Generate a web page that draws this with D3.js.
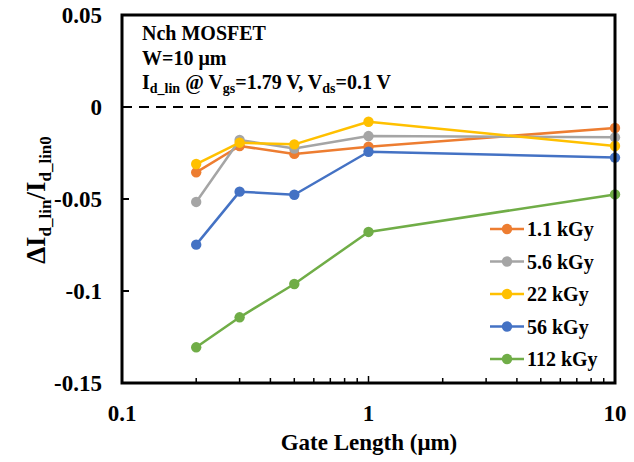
<!DOCTYPE html>
<html>
<head>
<meta charset="utf-8">
<script src="https://cdn.jsdelivr.net/npm/d3@7"></script>
<style>
  html, body { margin: 0; padding: 0; background: #fff; }
  svg { display: block; }
</style>
</head>
<body>
<svg id="chart" width="634" height="462"></svg>
<script>
// Gate lengths (µm) and relative linear drain current shift per dose
const gateLengths = [0.2, 0.3, 0.5, 1, 10];
const doseLabels = ["1.1 kGy", "5.6 kGy", "22 kGy", "56 kGy", "112 kGy"];
const seriesColors = ["#ED7D31", "#A5A5A5", "#FFC000", "#4472C4", "#70AD47"];
const dose1p1 = [-0.0355, -0.0212, -0.0255, -0.0216, -0.0114];
const dose5p6 = [-0.0516, -0.0179, -0.0226, -0.0158, -0.0165];
const dose22 = [-0.0310, -0.0194, -0.0203, -0.0080, -0.0212];
const dose56 = [-0.0748, -0.0460, -0.0477, -0.0243, -0.0275];
const dose112 = [-0.1306, -0.1143, -0.0962, -0.0679, -0.0475];
const seriesValues = [dose1p1, dose5p6, dose22, dose56, dose112];
const yTicks = [0.05, 0, -0.05, -0.1, -0.15];
const yTickLabels = ["0.05", "0", "-0.05", "-0.1", "-0.15"];
const xTicks = [0.1, 1, 10];
const xTickLabels = ["0.1", "1", "10"];

const FONT = '"Liberation Serif"';
const svg = d3.select("#chart");
const plot = { left: 122, right: 615, top: 15, bottom: 383 };

const x = d3.scaleLog().domain([0.1, 10]).range([plot.left, plot.right]);
const y = d3.scaleLinear().domain([-0.15, 0.05]).range([plot.bottom, plot.top]);

// Minor log ticks along the bottom, pointing inward
const minorTicks = [];
[0.1, 1].forEach(dec => { for (let k = 2; k <= 9; k++) minorTicks.push(dec * k); });
svg.append("g").selectAll("line").data(minorTicks).join("line")
  .attr("x1", d => x(d)).attr("x2", d => x(d))
  .attr("y1", plot.bottom).attr("y2", plot.bottom - 5)
  .attr("stroke", "#000").attr("stroke-width", 1.5);
svg.append("g").selectAll("line").data(xTicks).join("line")
  .attr("x1", d => x(d)).attr("x2", d => x(d))
  .attr("y1", plot.bottom).attr("y2", plot.bottom - 7)
  .attr("stroke", "#000").attr("stroke-width", 1.5);

// Y ticks, pointing inward
svg.append("g").selectAll("line").data(yTicks).join("line")
  .attr("x1", plot.left).attr("x2", plot.left + 7)
  .attr("y1", d => y(d)).attr("y2", d => y(d))
  .attr("stroke", "#000").attr("stroke-width", 2);

// Zero reference line
svg.append("line")
  .attr("x1", plot.left).attr("x2", plot.right)
  .attr("y1", y(0)).attr("y2", y(0))
  .attr("stroke", "#000").attr("stroke-width", 2.2)
  .attr("stroke-dasharray", "10,7");

// Series lines and markers
const line = d3.line().x((d, i) => x(gateLengths[i])).y(d => y(d));
seriesValues.forEach((vals, s) => {
  const g = svg.append("g");
  g.append("path").datum(vals)
    .attr("d", line).attr("fill", "none")
    .attr("stroke", seriesColors[s]).attr("stroke-width", 2.5)
    .attr("stroke-linejoin", "round");
  g.selectAll("circle").data(vals).join("circle")
    .attr("cx", (d, i) => x(gateLengths[i])).attr("cy", d => y(d))
    .attr("r", 5.2).attr("fill", seriesColors[s]);
});

// Plot frame
svg.append("rect")
  .attr("x", plot.left).attr("y", plot.top)
  .attr("width", plot.right - plot.left).attr("height", plot.bottom - plot.top)
  .attr("fill", "none").attr("stroke", "#000").attr("stroke-width", 3);

// Tick labels
svg.append("g").selectAll("text").data(yTicks).join("text")
  .attr("x", 102).attr("y", d => y(d)).attr("dy", "0.35em")
  .attr("text-anchor", "end").attr("font-size", 23)
  .text((d, i) => yTickLabels[i]);
svg.append("g").selectAll("text").data(xTicks).join("text")
  .attr("x", d => x(d)).attr("y", 421)
  .attr("text-anchor", "middle").attr("font-size", 23)
  .text((d, i) => xTickLabels[i]);

// Axis titles
svg.append("text")
  .attr("x", 369).attr("y", 450).attr("text-anchor", "middle")
  .attr("font-size", 23).text("Gate Length (μm)");

const yTitle = svg.append("text")
  .attr("transform", "translate(45,200) rotate(-90)")
  .attr("text-anchor", "middle").attr("font-size", 27);
yTitle.append("tspan").text("ΔI");
yTitle.append("tspan").attr("font-size", 17).attr("dy", 6).text("d_lin");
yTitle.append("tspan").attr("dy", -6).text("/I");
yTitle.append("tspan").attr("font-size", 17).attr("dy", 6).text("d_lin0");

// Condition annotation
const ann = svg.append("g");
ann.append("text").attr("x", 142).attr("y", 40).attr("font-size", 20).text("Nch MOSFET");
ann.append("text").attr("x", 142).attr("y", 65).attr("font-size", 20).text("W=10 μm");
const cond = ann.append("text").attr("x", 142).attr("y", 89).attr("font-size", 20);
cond.append("tspan").text("I");
cond.append("tspan").attr("font-size", 14).attr("dy", 4).text("d_lin");
cond.append("tspan").attr("dy", -4).text(" @ V");
cond.append("tspan").attr("font-size", 14).attr("dy", 4).text("gs");
cond.append("tspan").attr("dy", -4).text("=1.79 V, V");
cond.append("tspan").attr("font-size", 14).attr("dy", 4).text("ds");
cond.append("tspan").attr("dy", -4).text("=0.1 V");

// Legend
const legendY = d3.scalePoint().domain(doseLabels).range([229, 359]);
const legend = svg.append("g");
doseLabels.forEach((lab, s) => {
  const ly = legendY(lab);
  legend.append("line").attr("x1", 490).attr("x2", 524).attr("y1", ly).attr("y2", ly)
    .attr("stroke", seriesColors[s]).attr("stroke-width", 2.5);
  legend.append("circle").attr("cx", 507).attr("cy", ly).attr("r", 5.2).attr("fill", seriesColors[s]);
  legend.append("text").attr("x", 527).attr("y", ly).attr("dy", "0.35em")
    .attr("font-size", 20).text(lab);
});

// Bold serif face for every label
svg.selectAll("text").attr("font-family", FONT).attr("font-weight", "bold");
</script>
</body>
</html>
